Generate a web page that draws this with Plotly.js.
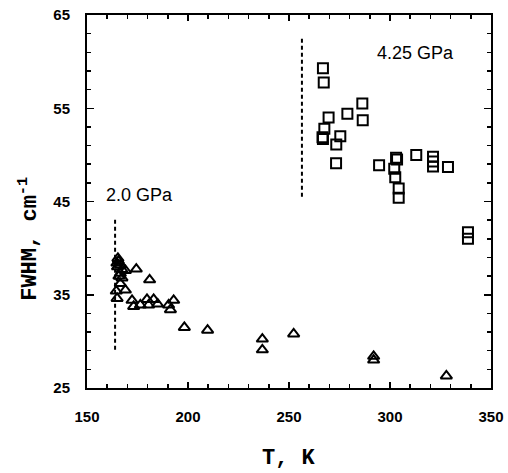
<!DOCTYPE html>
<html>
<head>
<meta charset="utf-8">
<script src="https://cdn.plot.ly/plotly-3.0.1.min.js"></script>
<style>html,body{margin:0;padding:0;background:#fff;}#chart{width:508px;height:473px;}</style>
</head>
<body>
<div id="chart"></div>
<script>
// 4.25 GPa data (squares)
const sqT = [266.8, 267.2, 269.6, 278.9, 286.3, 286.5, 267.5, 266.8, 266.6, 275.4, 273.4, 273.3, 294.6, 303.5, 303.0, 302.1, 302.6, 304.3, 304.3, 313.0, 321.3, 321.3, 321.3, 328.7, 338.6, 338.6];
const sqV = [59.3, 57.75, 54.0, 54.4, 55.5, 53.7, 52.8, 51.7, 51.9, 52.0, 51.1, 49.1, 48.9, 49.5, 49.7, 48.5, 47.6, 46.4, 45.4, 50.0, 49.8, 49.3, 48.75, 48.7, 41.7, 41.0];
// 2.0 GPa data (triangles)
const triT = [165.3, 165.6, 164.8, 166.5, 165.1, 167.3, 166.5, 165.8, 167.3, 166.5, 169.0, 164.5, 164.9, 169.0, 174.4, 181.0, 172.3, 173.1, 176.4, 179.7, 180.5, 183.0, 185.0, 190.4, 191.3, 192.9, 198.2, 209.7, 236.8, 236.8, 252.3, 291.9, 291.9, 327.9];
const triV = [38.9, 38.6, 38.4, 38.2, 38.0, 37.7, 37.3, 37.0, 36.8, 36.2, 35.5, 35.4, 34.6, 37.6, 37.75, 36.6, 34.4, 33.75, 33.9, 34.5, 33.9, 34.5, 34.0, 33.9, 33.4, 34.4, 31.5, 31.2, 30.25, 29.1, 30.8, 28.4, 28.0, 26.3];
// dashed marker lines
const line2T = [163.9, 163.9];
const line2V = [29.1, 43.1];
const line4T = [256.4, 256.4];
const line4V = [45.5, 62.5];
// labels
const labelText = ["2.0 GPa", "4.25 GPa"];
const labelT = [158.3, 292.7];
const labelV = [45.7, 60.9];
const xTicks = [150, 200, 250, 300, 350];
const yTicks = [25, 35, 45, 55, 65];

const traces = [
  {x: line2T, y: line2V, mode: 'lines', line: {color: 'black', width: 2, dash: '4px,3px'}, hoverinfo: 'skip'},
  {x: line4T, y: line4V, mode: 'lines', line: {color: 'black', width: 2, dash: '4px,3px'}, hoverinfo: 'skip'},
  {x: sqT, y: sqV, mode: 'markers', marker: {symbol: 'square-open', size: 10, color: 'black', line: {width: 2, color: 'black'}}},
  {x: triT, y: triV, mode: 'markers', marker: {symbol: 'triangle-up-open', size: 10, color: 'black', line: {width: 2, color: 'black'}}}
];

const annotations = labelText.map((t, i) => ({
  x: labelT[i], y: labelV[i], xref: 'x', yref: 'y', text: t, showarrow: false,
  xanchor: 'left', yanchor: 'middle',
  font: {family: 'Liberation Sans, Arial, sans-serif', size: 18, color: 'black'}
}));
annotations.push({
  x: -0.1436, y: 0.40, xref: 'paper', yref: 'paper', text: 'FWHM, cm<sup>-1</sup>',
  showarrow: false, textangle: -90, xanchor: 'center', yanchor: 'middle',
  font: {family: 'Liberation Mono, Courier New, monospace', size: 22, color: 'black', weight: 'bold'}
});
annotations.push({
  x: 0.5, y: -0.188, xref: 'paper', yref: 'paper', text: 'T, K',
  showarrow: false, xanchor: 'center', yanchor: 'middle',
  font: {family: 'Liberation Mono, Courier New, monospace', size: 22, color: 'black', weight: 'bold'}
});

const tickFont = {family: 'Liberation Sans, Arial, sans-serif', size: 15, color: 'black', weight: 'bold'};

const layout = {
  width: 508, height: 473,
  margin: {l: 87, r: 17, t: 15, b: 85},
  paper_bgcolor: 'white', plot_bgcolor: 'white',
  showlegend: false,
  xaxis: {
    range: [150, 350], tickvals: xTicks, ticktext: xTicks.map(String),
    showgrid: false, zeroline: false, showline: true, linecolor: 'black', linewidth: 2,
    mirror: 'ticks', ticks: 'inside', ticklen: 6, tickwidth: 1.5, tickcolor: 'black',
    minor: {dtick: 10, tick0: 150, ticks: 'inside', ticklen: 4, tickwidth: 1.5, tickcolor: 'black', showgrid: false},
    tickfont: tickFont, ticklabelstandoff: 14
  },
  yaxis: {
    range: [25, 65], tickvals: yTicks, ticktext: yTicks.map(String),
    showgrid: false, zeroline: false, showline: true, linecolor: 'black', linewidth: 2,
    mirror: 'ticks', ticks: 'inside', ticklen: 7, tickwidth: 1.5, tickcolor: 'black',
    minor: {dtick: 2, tick0: 25, ticks: 'inside', ticklen: 4, tickwidth: 1.5, tickcolor: 'black', showgrid: false},
    tickfont: tickFont, ticklabelstandoff: 12
  },
  annotations: annotations
};

Plotly.newPlot('chart', traces, layout, {displayModeBar: false, staticPlot: true});
</script>
</body>
</html>
